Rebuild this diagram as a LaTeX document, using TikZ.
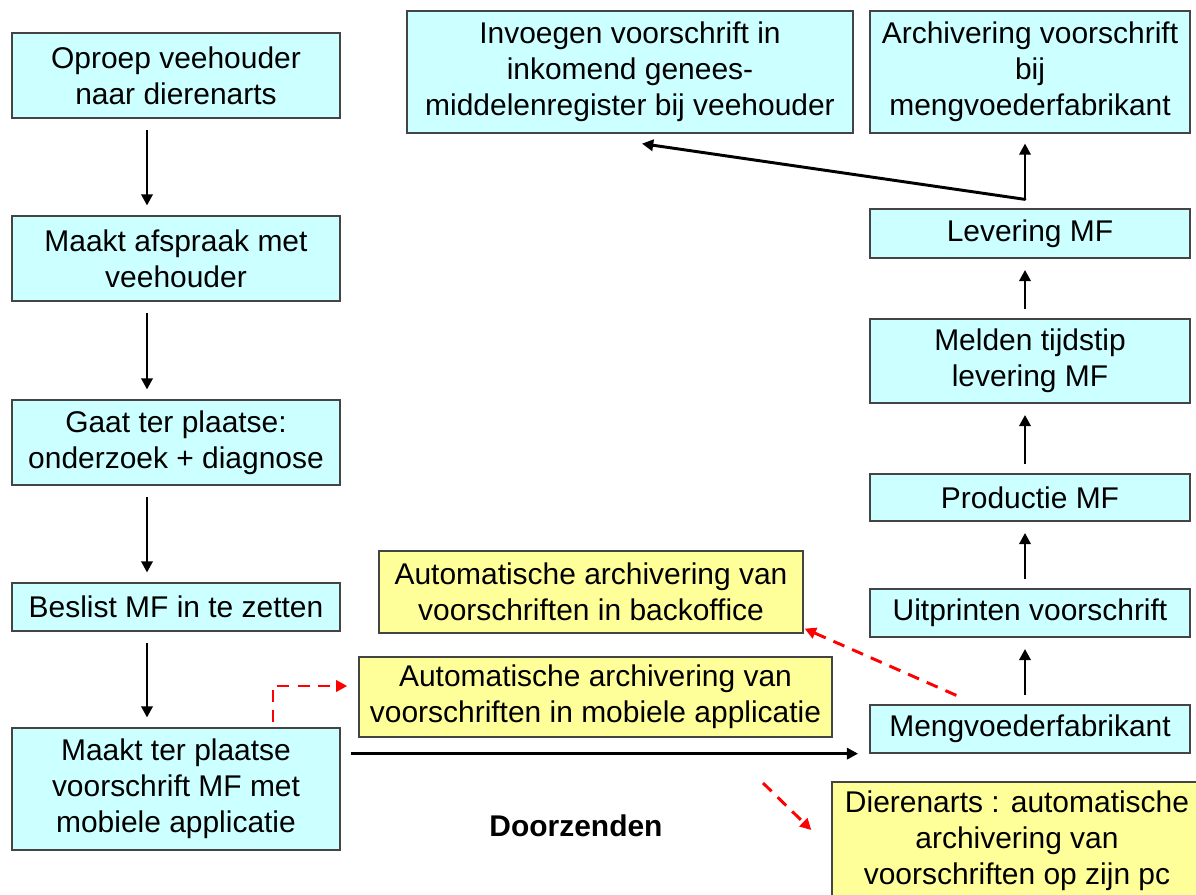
\documentclass[tikz,border=0pt]{standalone}
\usepackage{fontspec}
\setmainfont{Liberation Sans}
\usetikzlibrary{arrows.meta,calc}
\definecolor{stapcyaan}{HTML}{CCFFFF}
\definecolor{stapgeel}{HTML}{FFFF99}
\definecolor{staprand}{HTML}{444444}
\tikzset{
  stap/.style={draw=staprand, line width=0.9pt, fill=stapcyaan, align=center, inner sep=0pt,
    font=\fontsize{21.3}{25.6}\selectfont},
  archief/.style={stap, fill=stapgeel},
  pijl/.style={line width=2.1pt, -{Triangle[length=8pt,width=8pt]}},
  rodepijl/.style={line width=2.1pt, red, dash pattern=on 8.5pt off 6pt, -{Triangle[length=8pt,width=8pt]}},
}
\begin{document}
\begin{tikzpicture}[x=0.025cm,y=-0.025cm]
            \useasboundingbox (0,0) rectangle (1196,894);
            \clip (0,0) rectangle (1196,894);
            \node[stap, minimum width=8.2cm, minimum height=2.125cm] (op) at (176,75.5) {Oproep veehouder\\naar dierenarts};
            \node[stap, minimum width=8.2cm, minimum height=2.125cm] (afs) at (176,258.5) {Maakt afspraak met\\veehouder};
            \node[stap, minimum width=8.2cm, minimum height=2.125cm] (gaat) at (176,442.5) {Gaat ter plaatse:\\onderzoek + diagnose};
            \node[stap, minimum width=8.2cm, minimum height=1.2cm] (besl) at (176,607) {Beslist MF in te zetten};
            \node[stap, minimum width=8.2cm, minimum height=3.05cm] (maakt) at (176,789) {Maakt ter plaatse\\voorschrift MF met\\mobiele applicatie};
            \node[stap, minimum width=11.15cm, minimum height=3.05cm] (inv) at (630,72) {Invoegen voorschrift in\\inkomend genees-\\middelenregister bij veehouder};
            \node[stap, minimum width=8cm, minimum height=3.05cm] (arch) at (1030,72) {Archivering voorschrift\\bij\\mengvoederfabrikant};
            \node[stap, minimum width=8cm, minimum height=1.225cm] (lev) at (1030,233.5) {Levering MF};
            \node[stap, minimum width=8cm, minimum height=2.1cm] (meld) at (1030,361) {Melden tijdstip\\levering MF};
            \node[stap, minimum width=8cm, minimum height=1.175cm] (prod) at (1030,497.5) {Productie MF};
            \node[stap, minimum width=8cm, minimum height=1.2cm] (uitp) at (1030,613) {Uitprinten voorschrift};
            \node[stap, minimum width=8cm, minimum height=1.2cm] (meng) at (1030,729) {Mengvoederfabrikant};
            \node[archief, minimum width=10.6cm, minimum height=2.05cm] (back) at (591,592) {Automatische archivering van\\voorschriften in backoffice};
            \node[archief, minimum width=11.825cm, minimum height=2cm] (mob) at (595.5,697) {Automatische archivering van\\voorschriften in mobiele applicatie};
            \node[archief, minimum width=9.25cm, minimum height=2.95cm] (dier) at (1017,841) {Dierenarts : automatische\\archivering van\\voorschriften op zijn pc};
            \node[font=\fontsize{21.3}{25.6}\selectfont\bfseries] (doorz) at (576,826) {Doorzenden};
            \coordinate (lx) at (147,0);
            \coordinate (rx) at (1025,0);
            \foreach \a/\b in {op/afs, afs/gaat, gaat/besl, besl/maakt}
              \draw[pijl, shorten <=8pt, shorten >=7pt] (\a.south -| lx) -- (\b.north -| lx);
            \foreach \a/\b in {meng/uitp, uitp/prod, prod/meld, meld/lev}
              \draw[pijl, shorten <=7pt, shorten >=8pt] (\a.north -| rx) -- (\b.south -| rx);
            \coordinate (lj) at ($(lev.north -| rx)+(0,-9)$);
            \draw[pijl, shorten >=7pt] (lj) -- (arch.south -| rx);
            \draw[pijl, line cap=round] (lj) -- ($(inv.south)+(12,10)$);
            \draw[pijl, shorten <=7pt, shorten >=8pt] (maakt.east |- meng.south) -- (meng.south west);
            \draw[rodepijl] ($(maakt.north)+(97,-5)$) |- ($(mob.west)+(-11,-11)$);
            \draw[rodepijl] ($(meng.north west)+(87,-9)$) -- ($(back.south east)+(1,-5)$);
            \coordinate (dz) at (763,783);
            \draw[rodepijl] (dz) -- ($(dier.west)+(-20,-11)$);
\end{tikzpicture}
\end{document}
